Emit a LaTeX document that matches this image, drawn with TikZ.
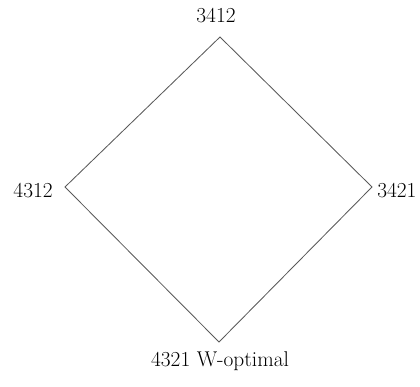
\documentclass[tikz,border=0pt]{standalone}
\usepackage{tikz}
\usetikzlibrary{positioning}

\tikzset{
  perm/.style={inner sep=0pt, font=\fontsize{15.2}{18}\selectfont},
  edge/.style={draw=black!65, line width=0.6pt}
}

\begin{document}
\begin{tikzpicture}
% frame
\useasboundingbox (0,0) rectangle (10.5,9.675);
% corners of the diamond
\coordinate (top) at (5.5,8.75);
\coordinate (left) at (1.625,5.0);
\coordinate (right) at (9.3,5.0);
\coordinate (bot) at (5.475,1.125);
% labels
\node[perm, anchor=base] (t) at (5.4,9.1) {3412};
\node[perm, anchor=base east] (l) at (1.325,4.725) {4312};
\node[perm, anchor=base west] (r) at (9.425,4.725) {3421};
\node[perm, anchor=base] (b) at (5.5,0.5) {4321 W-optimal};
% edges
\draw[edge] (top) -- (left) -- (bot) -- (right) -- cycle;
\end{tikzpicture}
\end{document}
